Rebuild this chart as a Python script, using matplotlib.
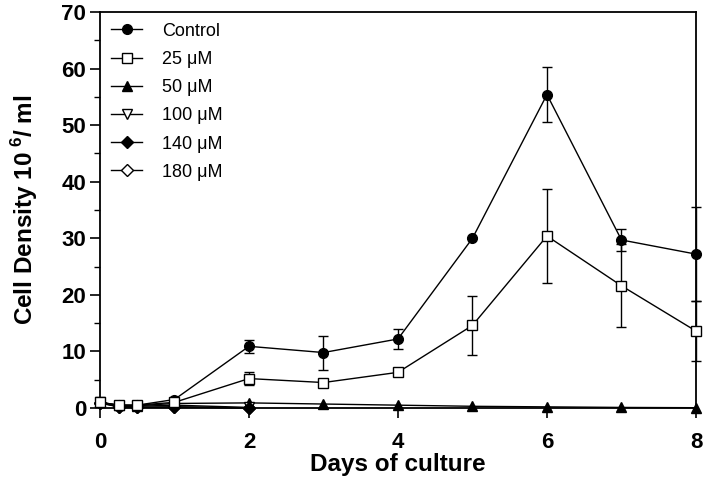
import matplotlib
matplotlib.use("Agg")
import matplotlib.pyplot as plt
from matplotlib.ticker import MultipleLocator

plt.rcParams['font.family'] = ['Liberation Sans', 'DejaVu Sans']
plt.rcParams['mathtext.fontset'] = 'custom'
plt.rcParams['mathtext.rm'] = 'Liberation Sans:bold'
plt.rcParams['mathtext.bf'] = 'Liberation Sans:bold'

# Days sampled
days_full = [0, 0.25, 0.5, 1, 2, 3, 4, 5, 6, 7, 8]
days_short = [0, 0.25, 0.5, 1, 2]

# Cell density (10^6 / ml)
control = [1.0, 0.5, 0.5, 1.5, 10.9, 9.8, 12.2, 30.0, 55.4, 29.7, 27.2]
control_err = [0.2, 0.2, 0.2, 0.3, 1.2, 3.0, 1.7, 0.0, 4.8, 2.0, 8.3]
um25 = [1.0, 0.5, 0.5, 1.0, 5.2, 4.5, 6.3, 14.6, 30.4, 21.6, 13.6]
um25_err = [0.2, 0.2, 0.2, 0.2, 1.2, 0.0, 0.6, 5.2, 8.3, 7.3, 5.3]
um50 = [1.0, 0.5, 0.4, 0.8, 0.9, 0.7, 0.5, 0.3, 0.2, 0.1, 0.05]
um100 = [1.0, 0.3, 0.3, 0.5, 0.1]
um140 = [0.9, 0.2, 0.1, 0.2, 0.0]
um180 = [0.9, 0.2, 0.1, 0.2, 0.0]

fig = plt.figure(figsize=(7.07, 4.83), dpi=100)
ax = fig.add_axes([0.1414, 0.1553, 0.843, 0.8199])

kw = dict(color='black', linewidth=1.0, markersize=7, markeredgewidth=1.0, clip_on=False)
ekw = dict(fmt='none', ecolor='black', elinewidth=1.0, capsize=3.5, capthick=1.0, clip_on=False)

ax.errorbar(days_full, control, yerr=control_err, **ekw)
ax.errorbar(days_full, um25, yerr=um25_err, **ekw)

ax.plot(days_full, control, marker='o', markerfacecolor='black', label='Control', zorder=4, **kw)
ax.plot(days_full, um25, marker='s', markerfacecolor='white', label='25 μM', zorder=4, **kw)
ax.plot(days_full, um50, marker='^', markerfacecolor='black', label='50 μM', zorder=3, **kw)
ax.plot(days_short, um100, marker='v', markerfacecolor='white', label='100 μM', zorder=3, **kw)
ax.plot(days_short, um140, marker='D', markerfacecolor='black', label='140 μM', zorder=3.2,
        **{**kw, 'markersize': 6})
ax.plot(days_short, um180, marker='D', markerfacecolor='white', label='180 μM', zorder=3.1,
        **{**kw, 'markersize': 6})

ax.set_xlim(0, 8)
ax.set_ylim(0, 70)
ax.xaxis.set_major_locator(MultipleLocator(2))
ax.yaxis.set_major_locator(MultipleLocator(10))
ax.yaxis.set_minor_locator(MultipleLocator(5))

for s in ax.spines.values():
    s.set_linewidth(1.3)

ax.tick_params(axis='both', which='major', direction='out', length=7, width=1.2,
               labelsize=16, pad=3)
ax.tick_params(axis='x', which='major', pad=10)
ax.tick_params(axis='y', which='minor', direction='out', length=4, width=1.0)
for lbl in ax.get_xticklabels() + ax.get_yticklabels():
    lbl.set_fontweight('bold')

ax.set_xlabel('Days of culture', fontsize=17.5, fontweight='bold', labelpad=0)
ax.set_ylabel('Cell Density 10$^{\\ 6}$/ ml', fontsize=17.5, fontweight='bold', labelpad=15)

leg = ax.legend(loc='upper left', frameon=False, fontsize=13, handlelength=1.75,
                labelspacing=0.62, borderaxespad=0.2, handletextpad=1.1,
                bbox_to_anchor=(0.0, 1.0))

fig.savefig('out.png', dpi=100)
